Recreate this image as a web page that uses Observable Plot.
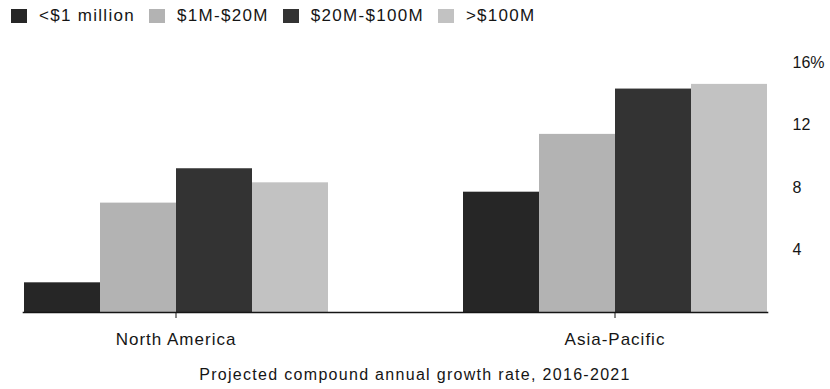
<!DOCTYPE html>
<html><head><meta charset="utf-8">
<script src="https://cdn.jsdelivr.net/npm/d3@7"></script>
<script src="https://cdn.jsdelivr.net/npm/@observablehq/plot@0.6"></script>
<style>
body{margin:0;background:#fff;font-family:"Liberation Sans",Arial,sans-serif;color:#151515;}
#legend{height:32px;display:flex;align-items:center;padding-left:11px;font-size:17px;letter-spacing:1.3px;}
.item{display:flex;align-items:center;margin-right:14px;}
.sw{width:16px;height:14px;margin-right:12px;}
#caption{text-align:center;font-size:16px;letter-spacing:1.3px;margin-top:4px;}
#chart svg g[aria-label="fx-axis tick label"] text{letter-spacing:1px;}
</style></head><body>
<div id="legend"></div><div id="chart"></div><div id="caption"></div>
<script>
const regions = ["North America", "Asia-Pacific"];
const sizes = ["<$1 million", "$1M-$20M", "$20M-$100M", ">$100M"];
const northAmerica = [1.9, 7.0, 9.2, 8.3];
const asiaPacific = [7.7, 11.4, 14.3, 14.6];
const yTicks = [4, 8, 12, 16];
const colors = ["#262626", "#b3b3b3", "#333333", "#c2c2c2"];
const captionText = "Projected compound annual growth rate, 2016-2021";

const table = [];
[northAmerica, asiaPacific].forEach((vals, r) =>
  vals.forEach((v, i) => table.push({region: regions[r], size: sizes[i], value: v})));

// legend
const lg = d3.select("#legend");
sizes.forEach((s, i) => {
  const it = lg.append("div").attr("class", "item");
  it.append("div").attr("class", "sw").style("background", colors[i]);
  it.append("span").text(s);
});
d3.select("#caption").text(captionText);

const chart = Plot.plot({
  width: 830,
  height: 330,
  marginLeft: 8,
  marginRight: 47,
  marginTop: 30,
  marginBottom: 50,
  style: {fontFamily: "'Liberation Sans', Arial, sans-serif", fontSize: "17px", color: "#151515", background: "#fff"},
  fx: {domain: regions, paddingInner: 0.305, paddingOuter: 0.034, label: null},
  x: {domain: sizes, padding: 0, axis: null},
  y: {domain: [0, 16], label: null},
  color: {domain: sizes, range: colors},
  marks: [
    Plot.barY(table, {fx: "region", x: "size", y: "value", fill: "size"}),
    Plot.frame({anchor: "bottom", facet: "super", stroke: "#151515", strokeWidth: 1.6}),
    Plot.axisFx({anchor: "bottom", tickSize: 6, tickPadding: 14, label: null, fontSize: 17, stroke: "#151515"}),
    Plot.axisY(yTicks, {anchor: "right", tickSize: 0, tickPadding: 25, label: null, fontSize: 16,
      tickFormat: d => d === 16 ? "16%" : String(d)})
  ]
});
document.getElementById("chart").append(chart);
</script>
</body></html>
